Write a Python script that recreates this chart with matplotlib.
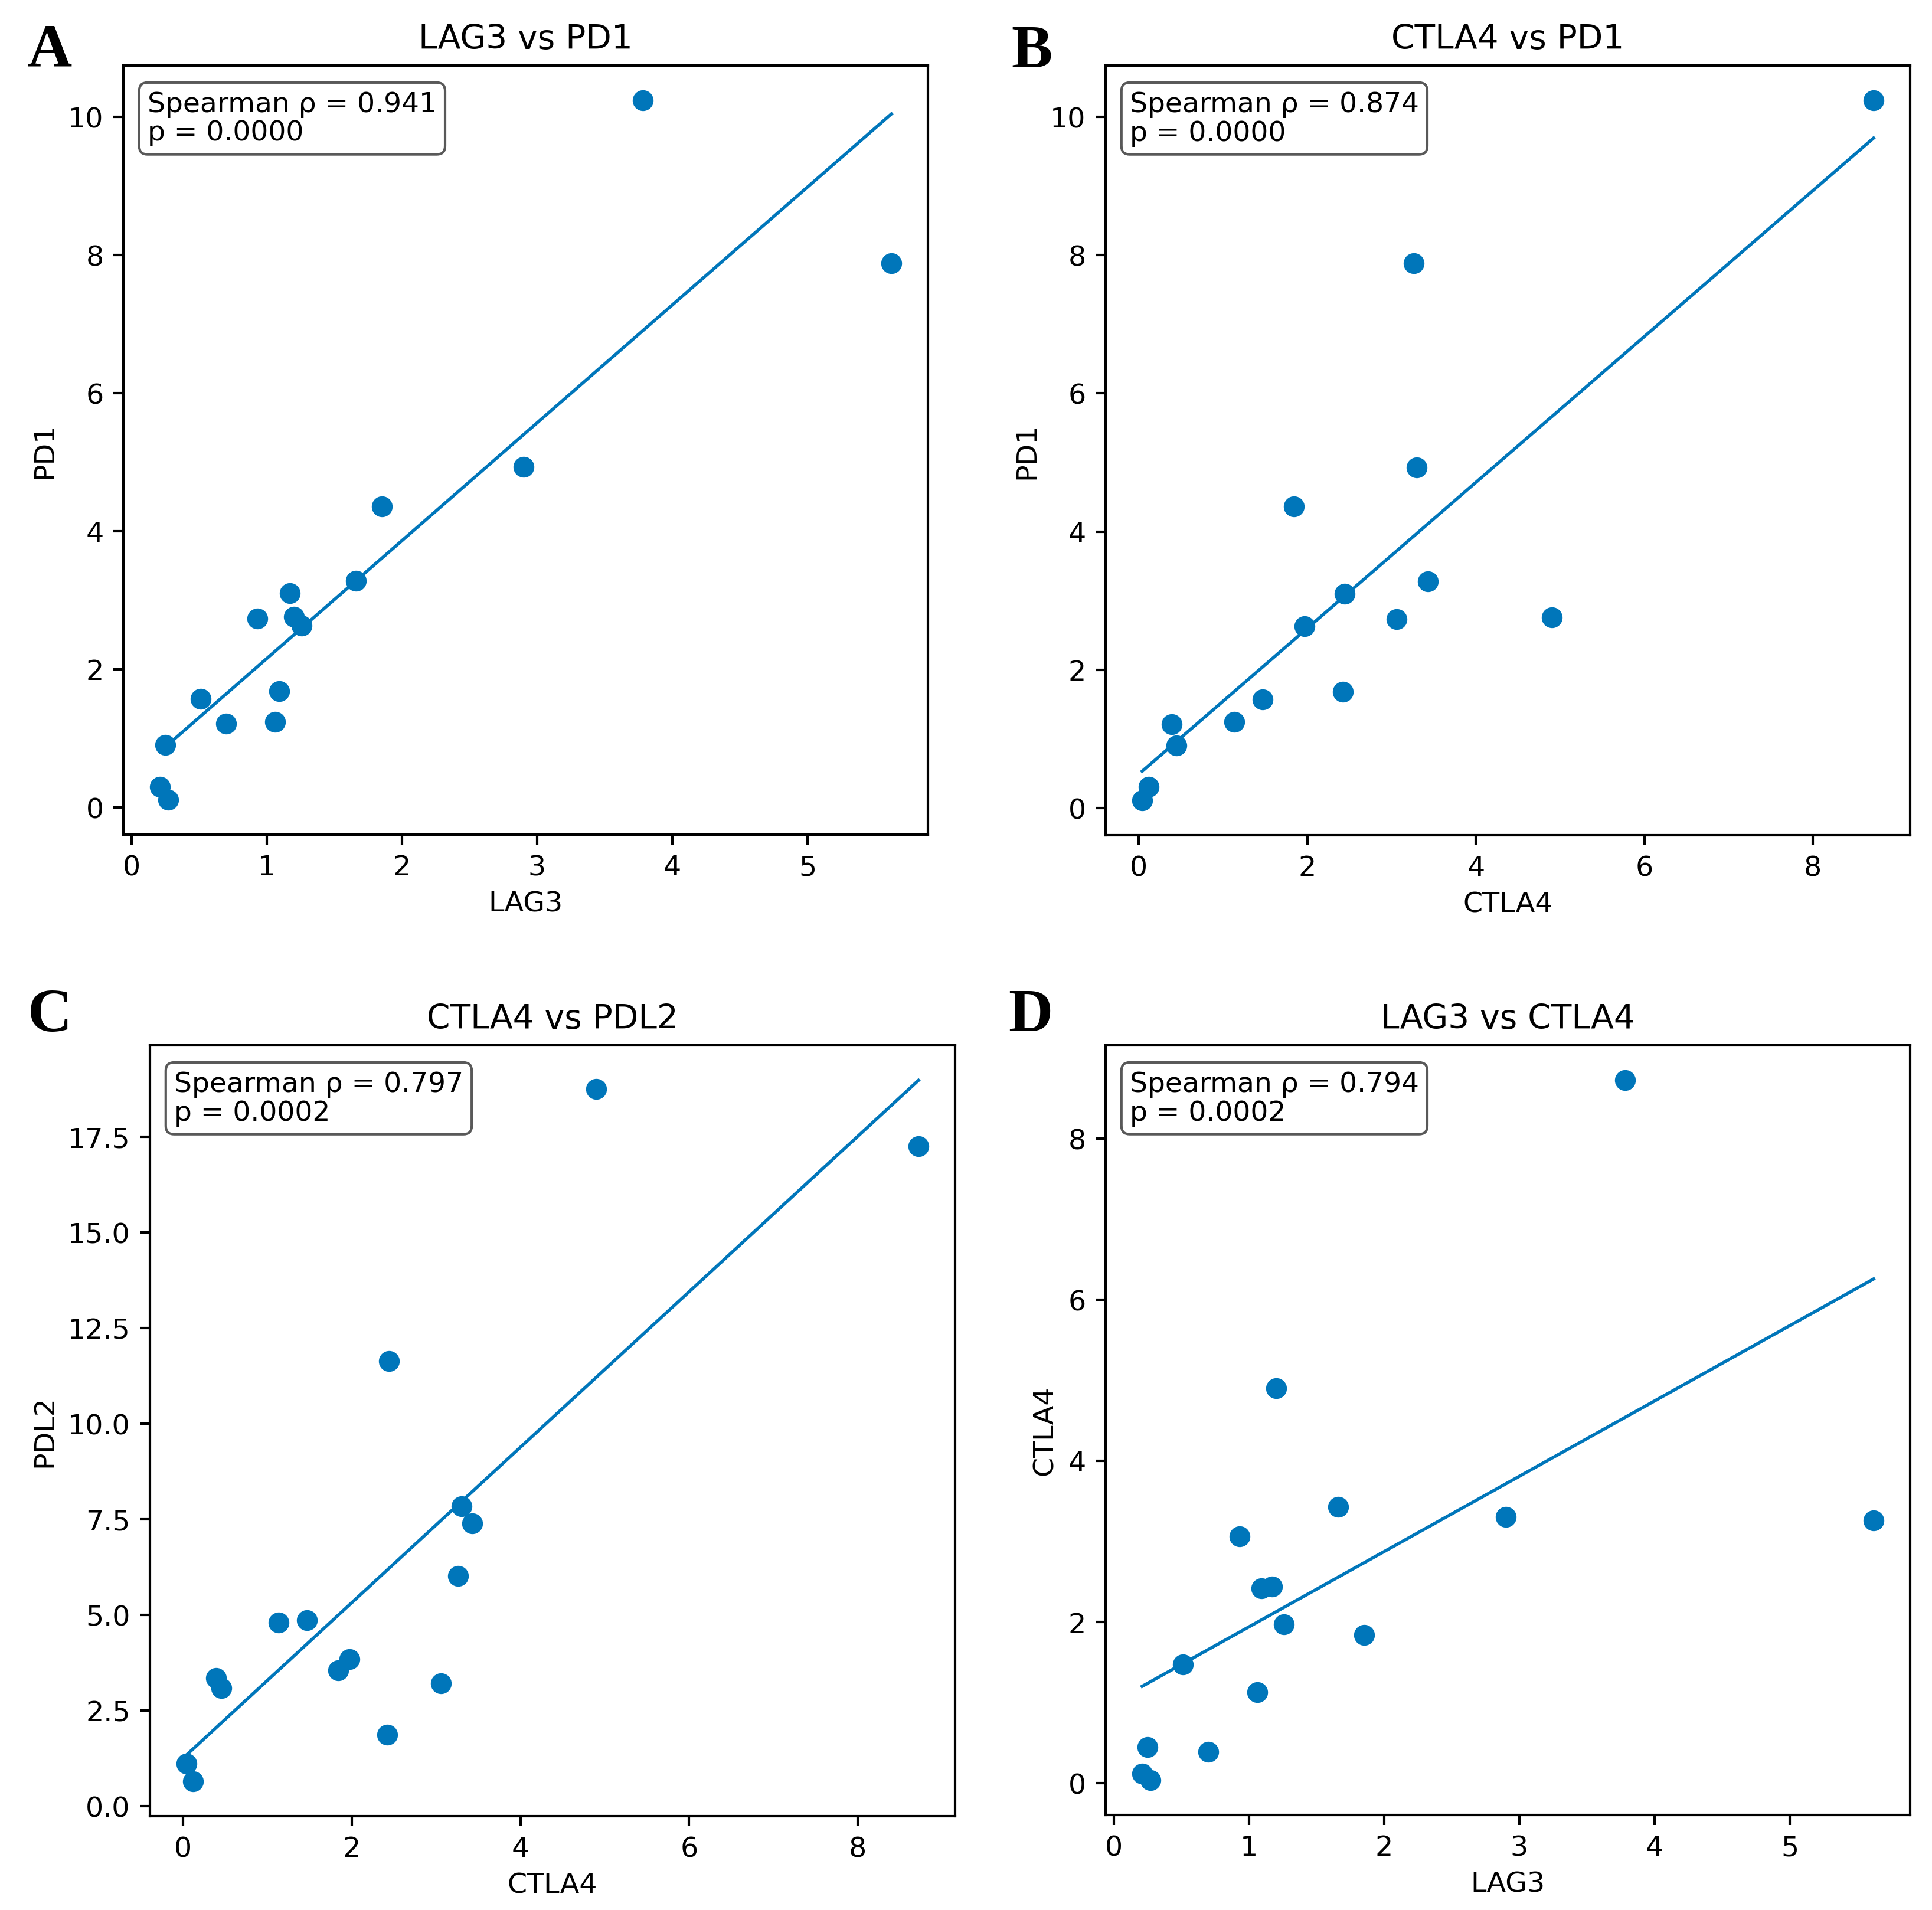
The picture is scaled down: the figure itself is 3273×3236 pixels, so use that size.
import numpy as np
import matplotlib
matplotlib.use("Agg")
import matplotlib.pyplot as plt

# expression values per sample
LAG3 = np.array([3.78, 5.62, 2.90, 1.85, 1.66, 1.17, 0.93, 1.20,
                 1.26, 0.51, 1.09, 0.70, 1.06, 0.25, 0.21, 0.27])
PD1 = np.array([10.24, 7.88, 4.93, 4.36, 3.28, 3.10, 2.73, 2.76,
                2.63, 1.57, 1.68, 1.21, 1.24, 0.90, 0.30, 0.11])
CTLA4 = np.array([8.72, 3.26, 3.30, 1.84, 3.43, 2.44, 3.06, 4.90,
                  1.97, 1.47, 2.42, 0.39, 1.13, 0.45, 0.12, 0.04])
PDL2 = np.array([17.25, 6.02, 7.83, 3.55, 7.39, 11.64, 3.20, 18.75,
                 3.84, 4.86, 1.86, 3.35, 4.80, 3.08, 0.65, 1.11])

genes = {"LAG3": LAG3, "PD1": PD1, "CTLA4": CTLA4, "PDL2": PDL2}

# panel letter, x gene, y gene, spearman rho, p value
panels = [
    ("A", "LAG3", "PD1", 0.941, 0.0000),
    ("B", "CTLA4", "PD1", 0.874, 0.0000),
    ("C", "CTLA4", "PDL2", 0.797, 0.0002),
    ("D", "LAG3", "CTLA4", 0.794, 0.0002),
]

W, H = 3273, 3237
DPI = 300
# axes boxes in pixels: left, top, right, bottom
boxes = [(209, 112, 1572, 1415), (1873, 112, 3236, 1416),
         (254, 1772, 1618, 3078), (1873, 1772, 3236, 3076)]
letter_pos = [(47, 113), (1713, 114), (47, 1747), (1708, 1747)]

color = "#0076BA"

plt.rcParams["axes.linewidth"] = 1.0
plt.rcParams["xtick.major.width"] = 1.0
plt.rcParams["ytick.major.width"] = 1.0
plt.rcParams["xtick.major.size"] = 4.0
plt.rcParams["ytick.major.size"] = 4.0
plt.rcParams["xtick.major.pad"] = 4.0
plt.rcParams["ytick.major.pad"] = 4.0
plt.rcParams["xtick.labelsize"] = 11.4
plt.rcParams["ytick.labelsize"] = 11.4

fig = plt.figure(figsize=(W / DPI, H / DPI), dpi=DPI)

for (letter, gx, gy, rho, p), (l, t, r, b), (lx, ly) in zip(panels, boxes, letter_pos):
    ax = fig.add_axes([l / W, 1 - b / H, (r - l) / W, (b - t) / H])
    x = genes[gx]
    y = genes[gy]
    ax.scatter(x, y, s=56, color=color, zorder=3)

    # linear fit line
    m, c = np.polyfit(x, y, 1)
    xs = np.array([x.min(), x.max()])
    ax.plot(xs, m * xs + c, color=color, linewidth=1.3)

    ax.set_title(f"{gx} vs {gy}", fontsize=13.6, pad=7)
    ax.set_xlabel(gx, fontsize=11.4)
    ax.set_ylabel(gy, fontsize=11.4)
    ax.text(0.03, 0.967, f"Spearman \u03c1 = {rho:.3f}\np = {p:.4f}",
            transform=ax.transAxes, va="top", ha="left", fontsize=11.3,
            linespacing=1.1,
            bbox=dict(boxstyle="round,pad=0.3", facecolor="white",
                      edgecolor="0.35", linewidth=1.0))

    fig.text(lx / W, 1 - ly / H, letter, fontsize=25, fontweight="bold",
             family="Liberation Serif", ha="left", va="baseline")

fig.savefig("out.png", dpi=DPI)
